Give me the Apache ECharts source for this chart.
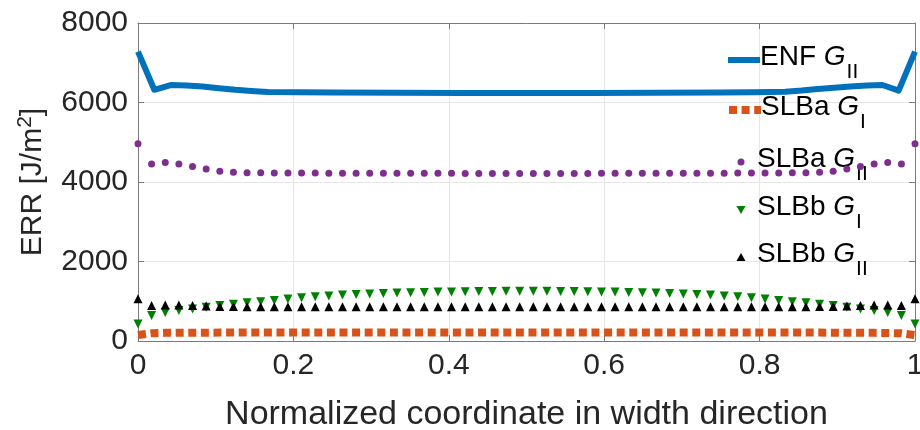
<!DOCTYPE html>
<html><head><meta charset="utf-8">
<script src="https://cdn.jsdelivr.net/npm/echarts@6/dist/echarts.min.js"></script>
<style>html,body{margin:0;padding:0;background:#fff}#c{width:920px;height:430px}</style>
</head><body><div id="c"></div>
<script>
// x positions of marker series (normalized width coordinate)
const xMarkers = [0, 0.0175, 0.0351, 0.0526, 0.0702, 0.0877, 0.1053, 0.1228, 0.1404, 0.1579,
  0.1754, 0.1930, 0.2105, 0.2281, 0.2456, 0.2632, 0.2807, 0.2982, 0.3158, 0.3333,
  0.3509, 0.3684, 0.3860, 0.4035, 0.4211, 0.4386, 0.4561, 0.4737, 0.4912, 0.5088,
  0.5263, 0.5439, 0.5614, 0.5789, 0.5965, 0.6140, 0.6316, 0.6491, 0.6667, 0.6842,
  0.7018, 0.7193, 0.7368, 0.7544, 0.7719, 0.7895, 0.8070, 0.8246, 0.8421, 0.8596,
  0.8772, 0.8947, 0.9123, 0.9298, 0.9474, 0.9649, 0.9825, 1];
// ENF G_II
const enfX = [0, 0.021, 0.042, 0.063, 0.083, 0.104, 0.125, 0.146, 0.167, 0.208, 0.25, 0.333, 0.417,
  0.5, 0.583, 0.667, 0.75, 0.792, 0.833, 0.854, 0.875, 0.896, 0.917, 0.938, 0.958, 0.979, 1];
const enfG2 = [7280, 6320, 6440, 6430, 6400, 6360, 6320, 6290, 6265, 6255, 6250, 6245, 6240,
  6240, 6240, 6245, 6250, 6255, 6270, 6300, 6340, 6370, 6400, 6425, 6440, 6300, 7280];
// SLBa G_I
const slbaG1 = [150, 195, 205, 208, 210, 210, 211, 211, 212, 212,
  212, 212, 212, 212, 212, 212, 212, 212, 212, 212,
  212, 212, 212, 212, 212, 212, 212, 212, 212, 212,
  212, 212, 212, 212, 212, 212, 212, 212, 212, 212,
  212, 212, 212, 212, 212, 212, 212, 212, 212, 211,
  211, 210, 210, 208, 205, 200, 195, 150];
// SLBa G_II
const slbaG2 = [4960, 4450, 4490, 4450, 4390, 4330, 4270, 4245, 4235, 4230,
  4228, 4226, 4225, 4224, 4223, 4222, 4221, 4220, 4220, 4219,
  4218, 4218, 4217, 4217, 4216, 4216, 4215, 4215, 4215, 4215,
  4215, 4215, 4216, 4216, 4217, 4217, 4218, 4218, 4219, 4220,
  4220, 4221, 4222, 4223, 4224, 4225, 4226, 4228, 4230, 4235,
  4245, 4270, 4330, 4390, 4450, 4490, 4450, 4960];
// SLBb G_I
const slbbG1 = [430, 640, 720, 765, 805, 850, 890, 925, 960, 990,
  1020, 1055, 1090, 1115, 1135, 1155, 1170, 1185, 1195, 1205,
  1215, 1222, 1230, 1235, 1240, 1245, 1248, 1250, 1250, 1250,
  1250, 1248, 1245, 1240, 1235, 1230, 1222, 1215, 1205, 1195,
  1185, 1170, 1155, 1135, 1115, 1090, 1055, 1020, 990, 960,
  925, 890, 850, 805, 765, 720, 640, 430];
// SLBb G_II
const slbbG2 = [1060, 890, 905, 905, 890, 878, 870, 866, 864, 862,
  862, 862, 862, 862, 862, 862, 862, 862, 862, 862,
  862, 862, 862, 862, 862, 862, 862, 862, 862, 862,
  862, 862, 862, 862, 862, 862, 862, 862, 862, 862,
  862, 862, 862, 862, 862, 862, 862, 862, 862, 864,
  866, 870, 878, 890, 905, 905, 890, 1060];

const seriesNames = ['ENF GII', 'SLBa GI', 'SLBa GII', 'SLBb GI', 'SLBb GII'];
const legendParts = { 'ENF GII': ['ENF ', 'II'], 'SLBa GI': ['SLBa ', 'I'], 'SLBa GII': ['SLBa ', 'II'],
  'SLBb GI': ['SLBb ', 'I'], 'SLBb GII': ['SLBb ', 'II'] };
const legendTops = [37, 87, 139, 187, 234];

const FONT = '"Liberation Sans", Arial, Helvetica, sans-serif';
const pair = (xs, ys) => xs.map((x, i) => [x, ys[i]]);

function richFor(padL) {
  return {
    t: { fontSize: 28, fontFamily: FONT, color: '#000', lineHeight: 30, padding: [0, 0, 6, padL] },
    g: { fontSize: 28, fontFamily: FONT, color: '#000', lineHeight: 30, padding: [0, 0, 6, 0], fontStyle: 'italic' },
    s: { fontSize: 21, fontFamily: FONT, color: '#000', lineHeight: 20, padding: [25, 0, 0, 1] }
  };
}
const fmt = name => '{t|' + legendParts[name][0] + '}{g|G}{s|' + legendParts[name][1] + '}';
const ICON_X = 741; // center of legend key
const TEXT_X = 757; // start of legend text

function lineLegend(i, lineStyle) {
  return {
    data: [seriesNames[i]], orient: 'vertical', left: ICON_X - 16, top: legendTops[i],
    itemWidth: 32, itemHeight: 8, selectedMode: false, padding: 0,
    itemStyle: { opacity: 0 }, lineStyle: lineStyle,
    formatter: fmt, textStyle: { rich: richFor(TEXT_X - (ICON_X + 16 + 5)) }
  };
}
function markLegend(i, icon, size) {
  return {
    data: [{ name: seriesNames[i], icon: icon }], orient: 'vertical', left: ICON_X - size / 2, top: legendTops[i],
    itemWidth: size, itemHeight: size, selectedMode: false, padding: 0,
    formatter: fmt, textStyle: { rich: richFor(TEXT_X - (ICON_X + size / 2 + 5)) }
  };
}

const legends = [
  lineLegend(0, { color: '#0072BD', width: 6, type: 'solid', cap: 'butt', opacity: 1 }),
  lineLegend(1, { color: '#D95319', width: 8, type: [8, 4.6], cap: 'butt', opacity: 1 }),
  markLegend(2, 'circle', 7),
  markLegend(3, 'path://M0,0L10,0L5,9Z', 9),
  markLegend(4, 'path://M5,0L10,9L0,9Z', 9)
];

const axisCol = '#7a7a7a';
const chart = echarts.init(document.getElementById('c'), null, { renderer: 'canvas' });
chart.setOption({
  animation: false,
  backgroundColor: '#fff',
  grid: { left: 138, right: 5, top: 23, bottom: 89, containLabel: false, outerBoundsMode: 'none' },
  legend: legends,
  xAxis: [{
    type: 'value', min: 0, max: 1, interval: 0.2,
    name: 'Normalized coordinate in width direction', nameLocation: 'middle', nameGap: 57,
    nameTextStyle: { fontSize: 34, fontFamily: FONT, color: '#262626' },
    axisLine: { show: true, onZero: false, lineStyle: { color: axisCol, width: 1 } },
    axisTick: { show: true, inside: true, length: 6, lineStyle: { color: axisCol } },
    axisLabel: { fontSize: 30, fontFamily: FONT, color: '#262626', margin: 10, formatter: v => String(v) },
    splitLine: { show: true, lineStyle: { color: '#e6e6e6', width: 1 } }
  }, {
    type: 'value', min: 0, max: 1, interval: 0.2, position: 'top',
    axisLine: { show: true, onZero: false, lineStyle: { color: axisCol, width: 1 } },
    axisTick: { show: true, inside: true, length: 6, lineStyle: { color: axisCol } },
    axisLabel: { show: false }, splitLine: { show: false }
  }],
  yAxis: [{
    type: 'value', min: 0, max: 8000, interval: 2000,
    name: '{a|ERR [J/m}{p|2}{a|]}', nameLocation: 'middle', nameGap: 64, nameRotate: 90,
    nameTextStyle: { rich: {
      a: { fontSize: 30, fontFamily: FONT, color: '#262626', lineHeight: 34 },
      p: { fontSize: 21, fontFamily: FONT, color: '#262626', lineHeight: 21, padding: [0, 0, 15, 0] }
    } },
    axisLine: { show: true, onZero: false, lineStyle: { color: axisCol, width: 1 } },
    axisTick: { show: true, inside: true, length: 6, lineStyle: { color: axisCol } },
    axisLabel: { fontSize: 30, fontFamily: FONT, color: '#262626', margin: 10, formatter: v => String(v) },
    splitLine: { show: true, lineStyle: { color: '#e6e6e6', width: 1 } }
  }, {
    type: 'value', min: 0, max: 8000, interval: 2000, position: 'right',
    axisLine: { show: true, onZero: false, lineStyle: { color: axisCol, width: 1 } },
    axisTick: { show: true, inside: true, length: 6, lineStyle: { color: axisCol } },
    axisLabel: { show: false }, splitLine: { show: false }
  }],
  series: [{
    name: 'ENF GII', type: 'line', data: pair(enfX, enfG2), symbol: 'none',
    lineStyle: { color: '#0072BD', width: 6, join: 'round' }, itemStyle: { color: '#0072BD' }, z: 2
  }, {
    name: 'SLBa GI', type: 'line', data: pair(xMarkers, slbaG1), symbol: 'none',
    lineStyle: { color: '#D95319', width: 8, type: [8, 4.6], cap: 'butt' }, itemStyle: { color: '#D95319' }, z: 3
  }, {
    name: 'SLBa GII', type: 'scatter', data: pair(xMarkers, slbaG2), symbol: 'circle', symbolSize: 7,
    itemStyle: { color: '#7E2F8E', opacity: 1 }, z: 4
  }, {
    name: 'SLBb GI', type: 'scatter', data: pair(xMarkers, slbbG1), symbol: 'triangle', symbolSize: 9, symbolRotate: 180,
    itemStyle: { color: '#008000', opacity: 1 }, z: 5
  }, {
    name: 'SLBb GII', type: 'scatter', data: pair(xMarkers, slbbG2), symbol: 'triangle', symbolSize: 9,
    itemStyle: { color: '#000000', opacity: 1 }, z: 6
  }]
});
</script>
</body></html>
